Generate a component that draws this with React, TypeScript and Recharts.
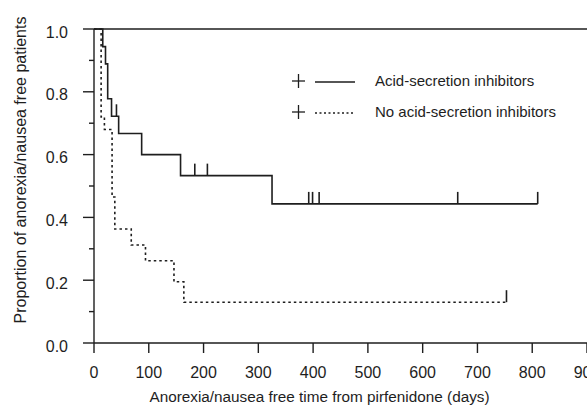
import React from 'react';
import { ComposedChart, Line, Scatter, XAxis, YAxis, ReferenceLine, Legend } from 'recharts';

const xTicks = [0, 100, 200, 300, 400, 500, 600, 700, 800, 900];
const yTicks = [0, 0.1, 0.2, 0.3, 0.4, 0.5, 0.6, 0.7, 0.8, 0.9, 1.0];

// Kaplan-Meier steps (day, proportion still free)
const acidDays = [0, 16, 21, 25, 32, 45, 87, 158, 325, 810];
const acidSurv = [1.0, 0.944, 0.889, 0.778, 0.722, 0.667, 0.6, 0.533, 0.443, 0.443];
const acidCensorDays = [41, 184, 207, 392, 399, 411, 664, 810];
const acidCensorSurv = [0.722, 0.533, 0.533, 0.443, 0.443, 0.443, 0.443, 0.443];

const noAcidDays = [0, 13, 19, 33, 38, 68, 94, 146, 164, 753];
const noAcidSurv = [1.0, 0.72, 0.68, 0.465, 0.363, 0.312, 0.262, 0.195, 0.13, 0.13];
const noAcidCensorDays = [753];
const noAcidCensorSurv = [0.13];

const legendNames = ['Acid-secretion inhibitors', 'No acid-secretion inhibitors'];

const toRows = (days: number[], surv: number[]) => days.map((t, i) => ({ t, s: surv[i] }));

const acidData = toRows(acidDays, acidSurv);
const acidCensor = toRows(acidCensorDays, acidCensorSurv);
const noAcidData = toRows(noAcidDays, noAcidSurv);
const noAcidCensor = toRows(noAcidCensorDays, noAcidCensorSurv);

const ink = '#1e1e1e';
const font = '"Liberation Sans", Arial, sans-serif';

// censoring mark: short vertical tick going up from the curve
const CensorTick = (props: any) => {
  const { cx, cy } = props;
  return <line x1={cx} x2={cx} y1={cy} y2={cy - 12} stroke={ink} strokeWidth={1.6} />;
};

const YTick = (props: any) => {
  const { x, y, payload } = props;
  const v = payload.value;
  const major = Math.round(v * 10) % 2 === 0;
  return (
    <g>
      <line x1={major ? x + 15 : x + 21} x2={x + 26} y1={y} y2={y} stroke={ink} strokeWidth={1.4} />
      {major && (
        <text x={x} y={y + 3} dy="0.35em" textAnchor="end" fontSize={16} fill={ink} fontFamily={font}>
          {v.toFixed(1)}
        </text>
      )}
    </g>
  );
};

const LegendBox = () => (
  <svg width={300} height={64} style={{ display: 'block' }}>
    {legendNames.map((name, i) => {
      const cy = 21 + i * 31;
      return (
        <g key={name}>
          <line x1={7} x2={20} y1={cy} y2={cy} stroke={ink} strokeWidth={1.3} />
          <line x1={13.5} x2={13.5} y1={cy - 7} y2={cy + 7} stroke={ink} strokeWidth={1.3} />
          <line x1={30} x2={70} y1={cy + 1} y2={cy + 1} stroke={ink} strokeWidth={1.3}
            strokeDasharray={i === 1 ? '2 2.5' : undefined} />
          <text x={90} y={cy} dy="0.35em" fontSize={15} fill={ink} fontFamily={font}>{name}</text>
        </g>
      );
    })}
  </svg>
);

export default function App() {
  return (
    <div style={{ position: 'absolute', left: 0, top: 0, width: 587, height: 408, overflow: 'hidden', background: '#fff' }}>
      <ComposedChart width={620} height={408} margin={{ top: 29, right: 33, bottom: 0, left: 0 }}>
        <XAxis
          type="number"
          dataKey="t"
          domain={[0, 900]}
          ticks={xTicks}
          interval={0}
          height={65}
          tickSize={10}
          tickMargin={14}
          stroke={ink}
          strokeWidth={1.4}
          tick={{ fontSize: 16, fill: ink, fontFamily: font }}
          label={{ value: 'Anorexia/nausea free time from pirfenidone (days)', position: 'insideBottom', offset: 6, dx: -21, fontSize: 15.3, fill: ink, fontFamily: font }}
        />
        <YAxis
          type="number"
          domain={[0, 1]}
          ticks={yTicks}
          interval={0}
          width={94}
          tickSize={11}
          tickMargin={15}
          tickLine={false}
          stroke={ink}
          strokeWidth={1.4}
          tick={YTick}
          label={{ value: 'Proportion of anorexia/nausea free patients', angle: -90, position: 'insideLeft', offset: 20, dy: -16, style: { textAnchor: 'middle' }, fontSize: 16, fill: ink, fontFamily: font }}
        />
        <ReferenceLine y={1} stroke={ink} strokeWidth={1.4} />
        <Legend layout="vertical" align="center" verticalAlign="middle" content={LegendBox}
          wrapperStyle={{ left: 285, top: 60, width: 300 }} />
        <Line data={acidData} dataKey="s" type="stepAfter" stroke={ink} strokeWidth={1.6}
          dot={false} activeDot={false} isAnimationActive={false} name={legendNames[0]} />
        <Line data={noAcidData} dataKey="s" type="stepAfter" stroke={ink} strokeWidth={1.6}
          strokeDasharray="2.5 3" dot={false} activeDot={false} isAnimationActive={false} name={legendNames[1]} />
        <Scatter data={acidCensor} dataKey="s" shape={CensorTick} isAnimationActive={false} legendType="none" />
        <Scatter data={noAcidCensor} dataKey="s" shape={CensorTick} isAnimationActive={false} legendType="none" />
      </ComposedChart>
    </div>
  );
}
